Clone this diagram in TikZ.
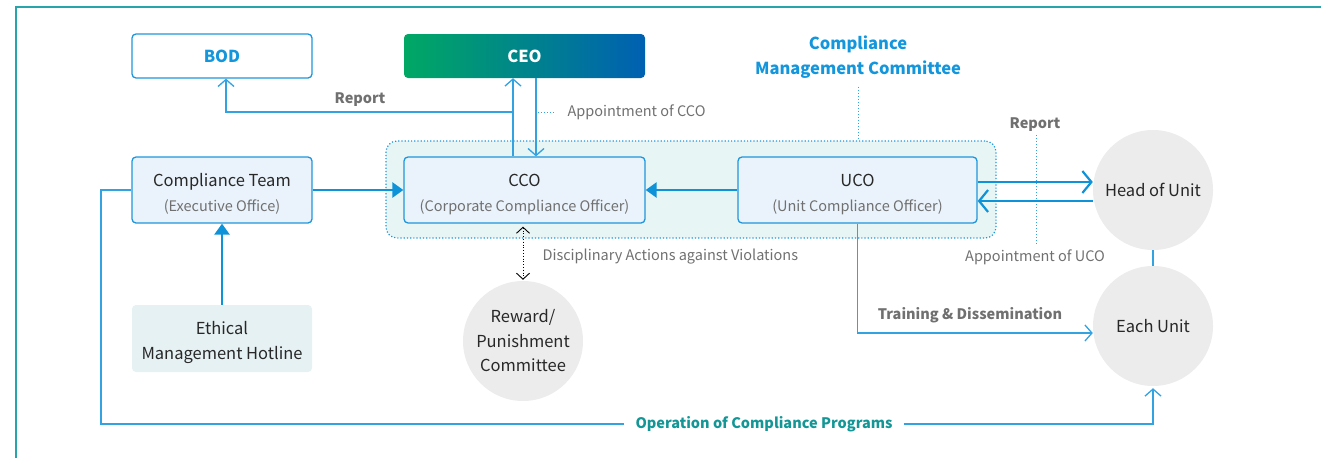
\documentclass[tikz,border=0pt]{standalone}
\usepackage{fontspec}
\setmainfont{Noto Sans CJK KR}
\usepackage{tikz}
\usetikzlibrary{positioning, arrows.meta}
\definecolor{frameColor}{RGB}{40,165,170}
\definecolor{thickColor}{RGB}{14,146,216}
\definecolor{thinColor}{RGB}{50,162,225}
\definecolor{boxBorder}{RGB}{30,150,220}
\definecolor{boxFill}{RGB}{234,243,251}
\definecolor{committeeFill}{RGB}{232,245,245}
\definecolor{hotlineFill}{RGB}{230,241,243}
\definecolor{circleFill}{RGB}{235,236,235}
\definecolor{grayText}{RGB}{112,112,112}
\definecolor{darkText}{RGB}{40,40,40}
\definecolor{titleBlue}{RGB}{20,150,220}
\definecolor{tealText}{RGB}{20,150,150}
\definecolor{ceoLeft}{RGB}{0,168,100}
\definecolor{ceoRight}{RGB}{0,96,178}
\newcommand{\mainSize}{\fontsize{16.5}{24.5}\selectfont}
\newcommand{\labelSize}{\fontsize{14.5}{18}\selectfont}
\newcommand{\topLine}[1]{\rule{0pt}{21pt}#1}
\newcommand{\subLine}[1]{{\color{grayText}\labelSize(#1)}}
\tikzstyle{chart} = [x = 1pt, y = -1pt]
\tikzstyle{frameLine} = [color=frameColor, line width=1.4pt]
\tikzstyle{officeStyle} = [draw=boxBorder, fill=boxFill, rounded corners = 4pt, line width=1.3pt, align=center, font=\mainSize, text=darkText, inner sep=0pt]
\tikzstyle{topStyle} = [draw=boxBorder, fill=white, rounded corners = 4pt, line width=1.3pt, font=\mainSize\bfseries, text=titleBlue, minimum height=44pt]
\tikzstyle{ceoStyle} = [left color=ceoLeft, right color=ceoRight, rounded corners = 4pt, font=\mainSize\bfseries, text=white, minimum height=44pt]
\tikzstyle{hotlineStyle} = [fill=hotlineFill, rounded corners = 4pt, align=center, font=\mainSize, text=darkText, minimum width=180pt, minimum height=67pt, inner sep=0pt]
\tikzstyle{committeeStyle} = [draw=boxBorder, dotted, line width=1.2pt, fill=committeeFill, rounded corners = 11pt]
\tikzstyle{unitCircle} = [circle, fill=circleFill, minimum size=120pt, align=center, font=\mainSize, text=darkText, inner sep=0pt]
\tikzstyle{titleText} = [font=\mainSize\bfseries, text=titleBlue, align=center]
\tikzstyle{labelText} = [font=\labelSize, text=grayText]
\tikzstyle{labelBold} = [font=\labelSize\bfseries, text=grayText]
\tikzstyle{opText} = [font=\labelSize\bfseries, text=tealText, inner xsep=11pt]
\tikzstyle{thinLine} = [color=thinColor, line width=1.3pt]
\tikzstyle{thinArrow} = [thinLine, -{Straight Barb[length=7pt, width=16pt, line width=1.3pt]}]
\tikzstyle{bigArrow} = [color=thickColor, line width=2.4pt, -{Straight Barb[length=9pt, width=22pt, line width=2.2pt]}]
\tikzstyle{thickArrow} = [color=thickColor, line width=2.6pt, -{Triangle[length=11pt, width=15pt]}]
\tikzstyle{dotLine} = [color=thinColor, dotted, line width=1pt]
\tikzstyle{dotArrow} = [color=black, dotted, line width=0.8pt, {Straight Barb[length=6pt, width=13pt, line width=0.9pt]}-{Straight Barb[length=6pt, width=13pt, line width=0.9pt]}]

\begin{document}
\begin{tikzpicture}[chart]
  \useasboundingbox (0,0) rectangle (1321,458);
  \draw [frameLine] (16,458) -- (16,7) -- (1321,7);

  % committee group
  \node [committeeStyle, minimum width=610pt, minimum height=97pt] (committeeBox) at (691,189.5) {};
  \node [titleText] (committee) at (858,57) {Compliance\\Management Committee};
  \draw [dotLine] ([yshift=-5pt]committee.south) -- (committee.south |- committeeBox.north);

  % boxes
  \node [topStyle, minimum width=180pt] (bod) at (222,56) {BOD};
  \node [ceoStyle, minimum width=241pt] (ceo) at (524.5,56) {CEO};
  \node [officeStyle, minimum width=180pt, minimum height=66pt] (team) at (222,190) {\topLine{Compliance Team}\\\subLine{Executive Office}};
  \node [officeStyle, minimum width=241pt, minimum height=66pt] (cco) at (524.5,190) {\topLine{CCO}\\\subLine{Corporate Compliance Officer}};
  \node [officeStyle, minimum width=239pt, minimum height=66pt] (uco) at (857.5,190) {\topLine{UCO}\\\subLine{Unit Compliance Officer}};
  \node [hotlineStyle] (hotline) at (222,338.5) {\topLine{Ethical}\\Management Hotline};
  \node [unitCircle] (reward) at (523,341) {Reward/\\Punishment\\Committee};
  \node [unitCircle] (head) at (1153,190) {Head of Unit};
  \node [unitCircle] (each) at (1153,326) {Each Unit};

  % report / appointment of CCO
  \coordinate (reportJoint) at (513,112);
  \draw [thinArrow] ([xshift=-11.5pt]cco.north) -- ([xshift=-11.5pt]ceo.south);
  \draw [thinArrow] (reportJoint) -| ([xshift=4pt]bod.south);
  \node [labelBold] (report) at (360,100) {Report};
  \draw [thinArrow] ([xshift=11.5pt]ceo.south) -- ([xshift=11.5pt]cco.north);
  \coordinate (apptCcoStart) at (538,112);
  \node [labelText, anchor=west] (apptCco) at (564,112) {Appointment of CCO};
  \draw [dotLine] (apptCcoStart) -- ([xshift=-8pt]apptCco.west);

  % main flows
  \draw [thickArrow] (team.east) -- (cco.west);
  \draw [thickArrow] (uco.west) -- (cco.east);
  \draw [thickArrow] (hotline.north) -- (team.south);
  \draw [dotArrow] ([yshift=-3pt]reward.north |- cco.south) -- ([yshift=1pt]reward.north);
  \node [labelText, anchor=west] (discipline) at (539,257) {Disciplinary Actions against Violations};

  % UCO and units
  \node [labelBold] (reportUco) at (1035,125) {Report};
  \node [labelText] (apptUco) at (1035,257) {Appointment of UCO};
  \draw [dotLine] ([xshift=1pt]reportUco.south) -- ([xshift=1pt]apptUco.north);
  \draw [bigArrow] ([yshift=8pt]uco.east) -- ([yshift=8pt]uco.east -| head.west);
  \draw [bigArrow] ([yshift=-11pt]head.west) -- ([yshift=-11pt]head.west -| uco.east);
  \draw [thinLine] (head) -- (each);
  \draw [thinArrow] (uco.south) |- ([yshift=-7pt]each.west);
  \node [labelBold] (training) at (970,315) {Training \& Dissemination};

  % operation of programs
  \node [opText] (operation) at (764,424) {Operation of Compliance Programs};
  \coordinate (operationCorner) at (101,190);
  \draw [thinLine] (team.west) -- (operationCorner) |- (operation.west);
  \draw [thinArrow] (operation.east) -| ([yshift=-2pt]each.south);
\end{tikzpicture}
\end{document}
